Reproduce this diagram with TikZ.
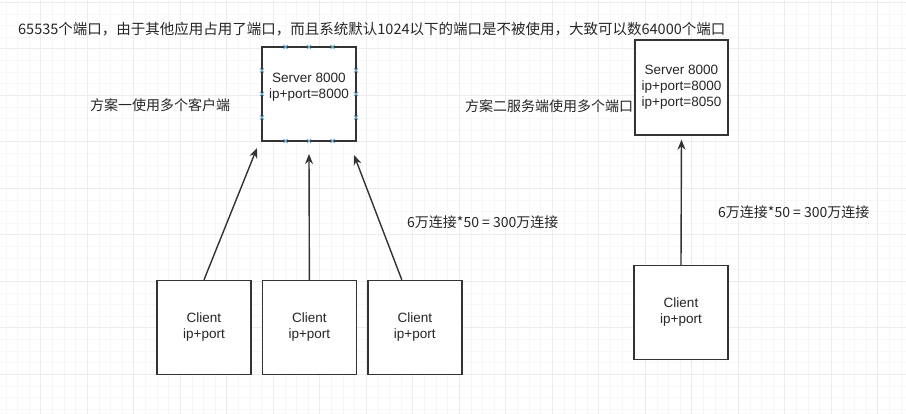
\documentclass[tikz,border=0pt]{standalone}
\usepackage{fontspec}
\setmainfont{Liberation Sans}
\newfontfamily\cjkfont{Noto Sans CJK SC}
\usetikzlibrary{arrows.meta,positioning}
\definecolor{handleblue}{RGB}{110,170,205}

\begin{document}
\begin{tikzpicture}[x=1pt, y=-1pt, >={Stealth[length=10pt,width=8pt]},
    box/.style={draw=black!80, line width=1.4pt, fill=white, align=center, text=black!85, minimum width=94pt, minimum height=94pt, inner sep=0pt, font=\fontsize{13.5}{16}\selectfont},
    note/.style={anchor=west, inner sep=0pt, text=black!85, font=\cjkfont\fontsize{14}{16}\selectfont},
    link/.style={->, draw=black!80, line width=1.4pt},
    gridminor/.style={draw=black!3, line width=0.5pt},
    gridmajor/.style={draw=black!7, line width=0.6pt},
    handle/.style={draw=handleblue, line width=0.8pt}]
    % Page and background grid
    \fill[white] (0,0) rectangle (906,414);
    \useasboundingbox (0,0) rectangle (906,414);
    \foreach \k in {0,...,79} \draw[gridminor] ({-5.8+11.625*\k},0) -- ({-5.8+11.625*\k},414);
    \foreach \k in {0,...,36} \draw[gridminor] (0,{2.2+11.625*\k}) -- (906,{2.2+11.625*\k});
    \foreach \k in {0,...,20} \draw[gridmajor] ({-5.8+46.5*\k},0) -- ({-5.8+46.5*\k},414);
    \foreach \k in {0,...,9} \draw[gridmajor] (0,{2.2+46.5*\k}) -- (906,{2.2+46.5*\k});
    % Notes
    \node[note] (title) at (18,29) {\fontsize{14.5}{16}\selectfont 65535个端口，由于其他应用占用了端口，而且系统默认1024以下的端口是不被使用，大致可以数64000个端口};
    \node[note] (plan1) at (90,105) {方案一使用多个客户端};
    \node[note] (plan2) at (465,106) {方案二服务端使用多个端口};
    \node[note] (calc1) at (407,222) {6万连接*50 = 300万连接};
    \node[note] (calc2) at (718,212) {6万连接*50 = 300万连接};
    % Servers and clients
    \node[box] (srv1) at (309,94) {Server 8000\\ip+port=8000\\\mbox{}};
    \node[box, minimum width=93pt, minimum height=95pt] (srv2) at (681.5,87.5) {Server 8000\\ip+port=8000\\ip+port=8050};
    \node[box] (c1) at (204,327.5) {Client\\ip+port};
    \node[box, right=10pt of c1] (c2) {Client\\ip+port};
    \node[box, right=10pt of c2] (c3) {Client\\ip+port};
    \node[box] (c4) at (681,312.5) {Client\\ip+port};
    % Connection handles on the selected server
    \foreach \hx/\hy in {285.5/47, 309/47, 332.5/47, 285.5/141, 309/141, 332.5/141, 262/70.5, 262/94, 262/117.5, 356/70.5, 356/94, 356/117.5}
        \draw[handle] (\hx,\hy) ++(-2,-2) -- ++(4,4) ++(-4,0) -- ++(4,-4);
    % Arrows
    \coordinate (tip1) at (257,148);
    \coordinate (tip2) at (309,154);
    \coordinate (tip3) at (354,155);
    \draw[link] (c1.north) -- (tip1);
    \draw[link] (c2.north) -- (tip2);
    \draw[link] ([xshift=-13pt]c3.north) -- (tip3);
    \draw[link, shorten >=4pt] (c4.north) -- (srv2.south);
\end{tikzpicture}
\end{document}
